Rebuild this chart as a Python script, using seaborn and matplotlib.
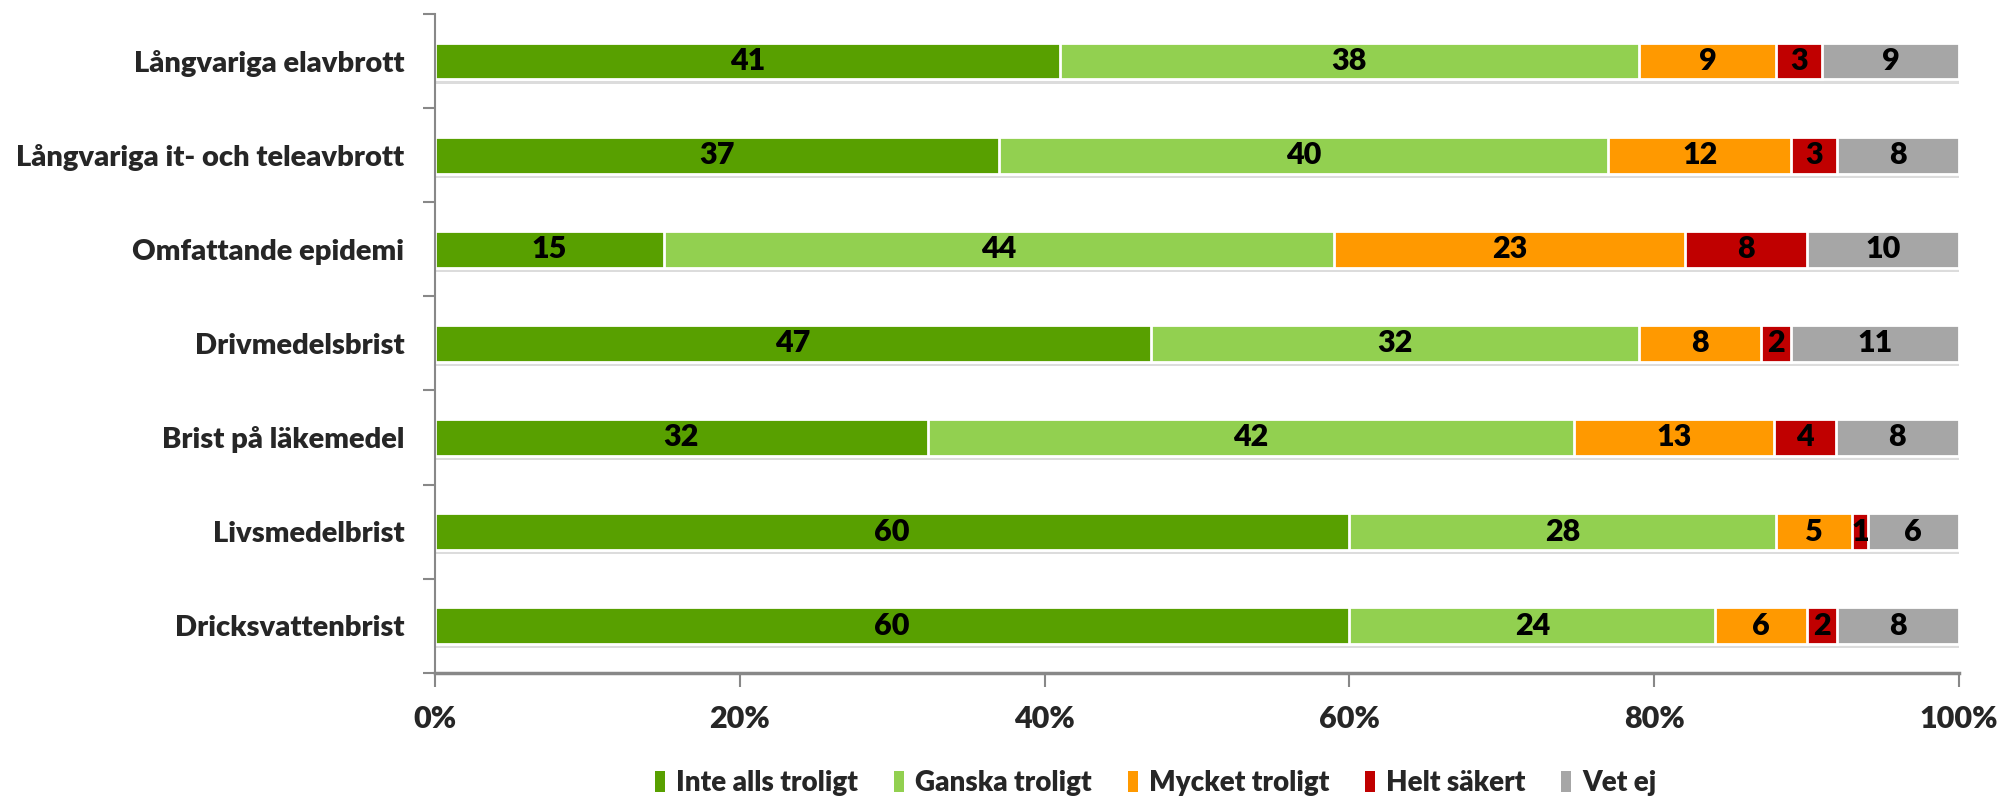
import numpy as np
import pandas as pd
import matplotlib
matplotlib.use('Agg')
import matplotlib.pyplot as plt
import matplotlib.patheffects as pe
from matplotlib.patches import Patch
import seaborn as sns

# Data
kategorier = ['Långvariga elavbrott', 'Långvariga it- och teleavbrott', 'Omfattande epidemi',
              'Drivmedelsbrist', 'Brist på läkemedel', 'Livsmedelbrist', 'Dricksvattenbrist']
inte_alls = [41, 37, 15, 47, 32, 60, 60]
ganska = [38, 40, 44, 32, 42, 28, 24]
mycket = [9, 12, 23, 8, 13, 5, 6]
helt = [3, 3, 8, 2, 4, 1, 2]
vet_ej = [9, 8, 10, 11, 8, 6, 8]

serier = ['Inte alls troligt', 'Ganska troligt', 'Mycket troligt', 'Helt säkert', 'Vet ej']
farger = ['#58A000', '#92D050', '#FF9900', '#C00000', '#A6A6A6']

df = pd.DataFrame(dict(zip(serier, [inte_alls, ganska, mycket, helt, vet_ej])), index=kategorier)
pct = df.div(df.sum(axis=1), axis=0) * 100
cum = pct.cumsum(axis=1)

sns.set_style('white')
plt.rcParams['font.family'] = ['Lato', 'DejaVu Sans']
plt.rcParams['font.weight'] = 'heavy'
FS = 21
VIKT = 'heavy'

fig = plt.figure(figsize=(20, 7.99), dpi=100)
ax = fig.add_axes([0.2175, 0.158, 0.762, 0.8245])

# staplade staplar: rita kumulativa summor bakifrån
for i in reversed(range(len(serier))):
    sns.barplot(x=cum[serier[i]].values, y=kategorier, order=kategorier, orient='h',
                color=farger[i], saturation=1, width=0.39, edgecolor='white',
                linewidth=2, ax=ax)
    if i == len(serier) - 1:
        for p in ax.patches:
            p.set_path_effects([pe.SimplePatchShadow(offset=(0, -3), alpha=0.25, shadow_rgbFace='#777777'),
                                pe.Normal()])

# värden i staplarna
for r, kat in enumerate(kategorier):
    vanster = 0
    for s in serier:
        w = pct.loc[kat, s]
        ax.text(vanster + w / 2, r, str(df.loc[kat, s]), ha='center', va='center',
                fontsize=22, fontweight=VIKT, color='black')
        vanster += w

ax.set_xlim(0, 100)
ax.set_ylim(6.5, -0.5)
ax.set_xticks(np.arange(0, 101, 20))
ax.set_xticklabels([f'{v}%' for v in range(0, 101, 20)])
ax.set_yticks(np.arange(-0.5, 7, 1), minor=True)
ax.set_xlabel('')
ax.set_ylabel('')

ax.tick_params(axis='x', bottom=True, length=10, width=1.5, color='#888888', pad=13, labelsize=22)
ax.tick_params(axis='y', which='major', left=False, length=0, pad=22, labelsize=FS)
ax.tick_params(axis='y', which='minor', left=True, length=9, width=1.5, color='#888888')
for lbl in ax.get_xticklabels() + ax.get_yticklabels():
    lbl.set_fontweight(VIKT)

for side in ['top', 'right']:
    ax.spines[side].set_visible(False)
ax.spines['left'].set_color('#888888')
ax.spines['left'].set_linewidth(1.5)
ax.spines['bottom'].set_color('#888888')
ax.spines['bottom'].set_linewidth(2.5)

handles = [Patch(facecolor=c, edgecolor='none') for c in farger]
fig.legend(handles, serier, loc='center', bbox_to_anchor=(0.578, 0.02), ncol=5,
           frameon=False, prop={'size': 20, 'weight': VIKT}, handlelength=0.35,
           handleheight=0.8, handletextpad=0.4, columnspacing=1.3)

fig.savefig('out.png', dpi=100)
